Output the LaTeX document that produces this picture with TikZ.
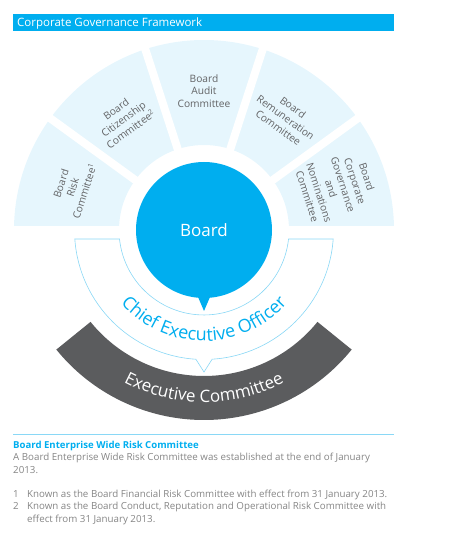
\documentclass[tikz,border=0pt]{standalone}
\usepackage{fontspec}
\setmainfont{Open Sans}
\usetikzlibrary{calc,decorations.text}
\definecolor{cblue}{HTML}{00AEEF}
\definecolor{fanfill}{HTML}{E6F6FD}
\definecolor{lineblue}{HTML}{8AD8F6}
\definecolor{dgrey}{HTML}{5B5C5E}
\definecolor{fantext}{HTML}{636466}
\definecolor{bodytext}{HTML}{858585}
\begin{document}
\begin{tikzpicture}[x=1pt,y=1pt,
  fantxt/.style={font=\fontsize{10.2}{12.5}\selectfont, text=fantext, align=center, inner sep=0},
  bodyline/.style={anchor=base west, inner sep=0, font=\fontsize{9.75}{12}\selectfont, text=bodytext}]
\useasboundingbox (0,0) rectangle (460,539);
\coordinate (C) at (204,309);
% header
\fill[cblue] (13,508) rectangle (394,525);
\node[anchor=base west, text=white, font=\fontsize{11.5}{12}\selectfont, inner sep=0] (hdr) at (17,512.3) {Corporate Governance Framework};
% fan of committees
\fill[fanfill] ($(C)+(190,0)$) arc[start angle=0,end angle=180,radius=190] -- ($(C)+(-85,0)$) arc[start angle=180,end angle=0,radius=85] -- cycle;
\foreach \a in {0,36,...,180} \draw[white, line width=8pt] (C) -- ++(\a:195);
% CEO band
\draw[lineblue, line width=0.6pt, fill=white] ($(C)+(-129.2,-9)$) -- ($(C)+(-84.5,-9)$)
  arc[start angle=186.1, end angle=353.9, radius=85] -- ($(C)+(129.2,-9)$)
  arc[start angle=-4, end angle=-86.4, radius=129.5] -- ($(C)+(0,-142)$) -- ($(C)+(266.4:129.5)$)
  arc[start angle=266.4, end angle=184, radius=129.5] -- cycle;
% Board
\fill[cblue] (C) circle[radius=68];
\fill[cblue] ($(C)+(-9,-60)$) -- ($(C)+(0,-81)$) -- ($(C)+(9,-60)$) -- cycle;
\node[text=white, font=\fontsize{17}{17}\selectfont, inner sep=0] (board) at (C) {Board};
% Executive committee band
\fill[dgrey] ($(C)+(219:190)$) arc[start angle=219,end angle=321,radius=190] -- ($(C)+(321:146)$) arc[start angle=321,end angle=219,radius=146] -- cycle;
% arc texts
\path[decorate, decoration={text along path, text={|\fontsize{18}{18}\selectfont|Chief Executive Officer}, text align=center, text color=cblue}]
  ($(C)+(200:111)$) arc[start angle=200,end angle=340,radius=111];
\path[decorate, decoration={text along path, text={|\fontsize{17}{17}\selectfont|Executive Committee}, text align=center, text color=white}]
  ($(C)+(200:172)$) arc[start angle=200,end angle=340,radius=172];
% committee labels
\node[fantxt, rotate=72] (risk) at ($(C)+(162:138)$) {Board\\Risk\\Committee\textsuperscript{1}};
\node[fantxt, rotate=36] (citz) at ($(C)+(126:137)$) {Board\\Citizenship\\Committee\textsuperscript{2}};
\node[fantxt] (audit) at ($(C)+(90:139)$) {Board\\Audit\\Committee};
\node[fantxt, rotate=-36] (remu) at ($(C)+(54:139)$) {Board\\Remuneration\\Committee};
\node[fantxt, rotate=-72] (gov) at ($(C)+(18:140)$) {Board\\Corporate\\Governance\\and\\Nominations\\Committee};
% notes
\draw[lineblue, line width=0.8pt] (13,105) -- (394,105);
\node[bodyline, text=cblue, font=\bfseries\fontsize{9.6}{12}\selectfont] (t0) at (13,90.7) {Board Enterprise Wide Risk Committee};
\node[bodyline] (t1) at (13,78) {A Board Enterprise Wide Risk Committee was established at the end of January};
\node[bodyline] (t2) at (13,65.7) {2013.};
\node[bodyline] (n1) at (13,41.3) {1};
\node[bodyline] (t3) at (27,41.3) {Known as the Board Financial Risk Committee with effect from 31 January 2013.};
\node[bodyline] (n2) at (13,29) {2};
\node[bodyline] (t4) at (27,29) {Known as the Board Conduct, Reputation and Operational Risk Committee with};
\node[bodyline] (t5) at (27,16.7) {effect from 31 January 2013.};
\end{tikzpicture}
\end{document}
